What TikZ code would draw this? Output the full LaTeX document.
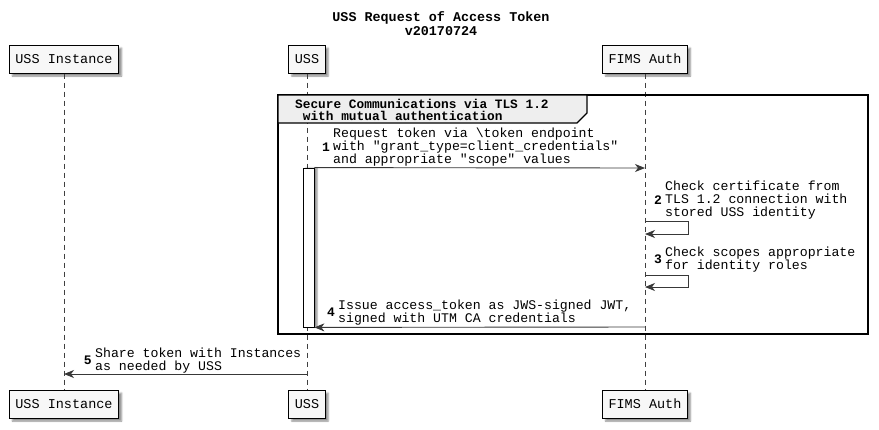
\documentclass[tikz,border=0pt]{standalone}
\usepackage{fontspec}
\newfontfamily\umlfont{Liberation Mono}
\usetikzlibrary{arrows.meta,positioning,shadows.blur}
\definecolor{umlline}{HTML}{383838}
\definecolor{umlhead}{HTML}{EEEEEE}

\begin{document}
\begin{tikzpicture}[x=1pt,y=-1pt,
	actor/.style={draw,line width=1pt,fill=black!3,inner xsep=6pt,minimum height=28pt,
		font=\umlfont\fontsize{13.5}{14}\selectfont,
		blur shadow={shadow xshift=3pt,shadow yshift=-3pt,shadow opacity=45}},
	life/.style={draw=black!75,dash pattern=on 5pt off 4pt,line width=.7pt},
	msg/.style={draw=umlline,line width=.9pt,-{Stealth[length=10pt,width=8pt,inset=3pt]}},
	msgtext/.style={anchor=west,inner sep=0pt,align=left,font=\umlfont\fontsize{13.2}{13}\selectfont},
	num/.style={inner sep=0pt,font=\umlfont\bfseries\fontsize{13}{13}\selectfont}]
	\useasboundingbox (0,0) rectangle (879,429);
	
	\node[align=center,font=\umlfont\bfseries\fontsize{13.4}{14}\selectfont] (title) at (441,24) {USS Request of Access Token\\v20170724};
	
	% participants, top and bottom
	\node[actor] (insT) at (64,59) {USS Instance};
	\node[actor] (ussT) at (307,59) {USS};
	\node[actor] (fimsT) at (645,59) {FIMS Auth};
	\node[actor] (insB) at (64,404) {USS Instance};
	\node[actor] (ussB) at (307,404) {USS};
	\node[actor] (fimsB) at (645,404) {FIMS Auth};
	\draw[life] (insT) -- (insB);
	\draw[life] (ussT) -- (ussB);
	\draw[life] (fimsT) -- (fimsB);
	
	% group
	\draw[line width=1.8pt] (278,95) rectangle (868,334);
	\draw[line width=1.3pt,fill=umlhead] (278,95) -- (587,95) -- (587,113) -- (577,123) -- (278,123) -- cycle;
	\node[anchor=west,inner sep=0pt,align=left,font=\umlfont\bfseries\fontsize{12.8}{12}\selectfont] (grp) at (295,109.5) {Secure Communications via TLS 1.2\\~with mutual authentication};
	
	\node[draw,line width=.8pt,fill=white,inner sep=0pt,minimum width=11pt,minimum height=159pt,
		blur shadow={shadow xshift=3pt,shadow yshift=0pt,shadow opacity=45}] (act) at (308.5,247.5) {};
	
	\coordinate (f1) at (645,168);
	\coordinate (f2) at (645,221); \coordinate (f2b) at (645,234);
	\coordinate (f3) at (645,275); \coordinate (f3b) at (645,287);
	\coordinate (f4) at (645,327);
	\coordinate (u5) at (307,374); \coordinate (i5) at (64,374);
	
	\draw[msg] (act.north east) -- (f1);
	\draw[msg] (f2) -- ++(43,0) |- (f2b);
	\draw[msg] (f3) -- ++(43,0) |- (f3b);
	\draw[msg] (f4) -- (act.south east);
	\draw[msg] (u5) -- (i5);
	
	\node[msgtext] (t1) at (333,147) {Request token via \textbackslash token endpoint\\with "grant\_type=client\_credentials"\\and appropriate "scope" values};
	\node[num,left=3pt of t1] {1};
	\node[msgtext] (t2) at (665,200) {Check certificate from\\TLS 1.2 connection with\\stored USS identity};
	\node[num,left=3pt of t2] {2};
	\node[msgtext] (t3) at (665,259.5) {Check scopes appropriate\\for identity roles};
	\node[num,left=3pt of t3] {3};
	\node[msgtext] (t4) at (338,312.5) {Issue access\_token as JWS-signed JWT,\\signed with UTM CA credentials};
	\node[num,left=3pt of t4] {4};
	\node[msgtext] (t5) at (95,360.5) {Share token with Instances\\as needed by USS};
	\node[num,left=3pt of t5] {5};
\end{tikzpicture}
\end{document}
